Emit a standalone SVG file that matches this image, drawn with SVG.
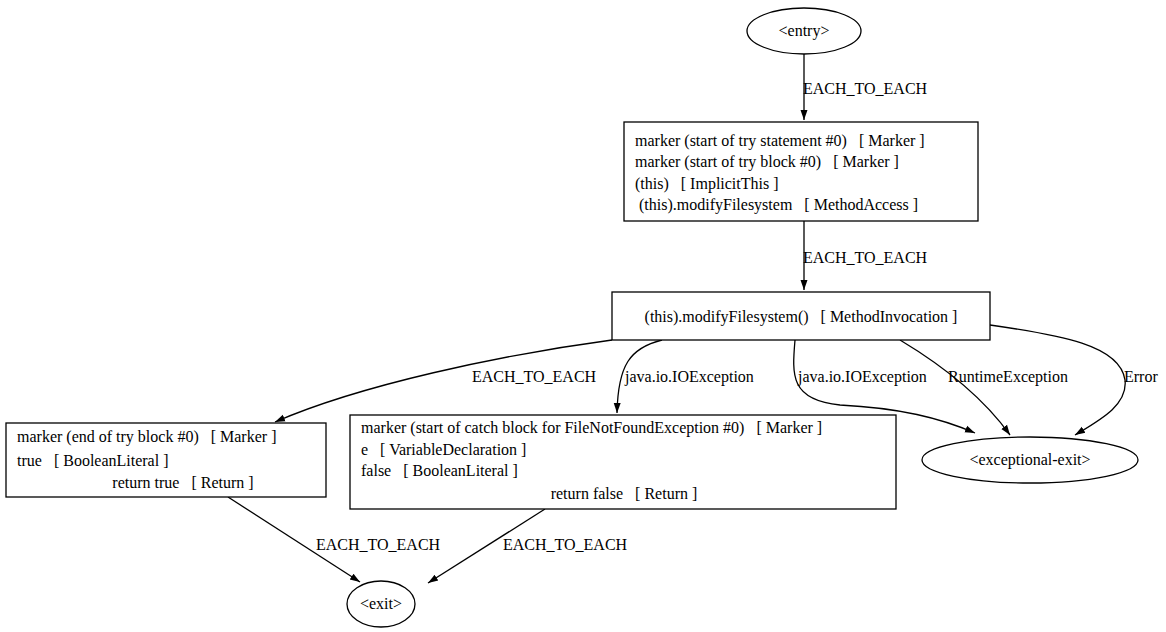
<svg xmlns="http://www.w3.org/2000/svg" width="1166" height="632" viewBox="0 0 1166 632">
<style>
text{font-family:"Liberation Serif","Times New Roman",serif;font-size:16px;fill:#000}
.n{fill:#fff;stroke:#000;stroke-width:1.3}
.e{fill:none;stroke:#000;stroke-width:1.3}
</style>
<defs><marker id="a" viewBox="0 0 10 10" refX="10" refY="5" markerWidth="10" markerHeight="10" markerUnits="userSpaceOnUse" orient="auto"><path d="M0,1.5L10,5L0,8.5z" fill="#000"/></marker></defs>
<rect width="1166" height="632" fill="#fff"/>
<g id="connectors">
<path class="e" marker-end="url(#a)" d="M804,54V120"/>
<text x="803" y="94">EACH_TO_EACH</text>
<path class="e" marker-end="url(#a)" d="M804,221V290"/>
<text x="803" y="263">EACH_TO_EACH</text>
<path class="e" marker-end="url(#a)" d="M612,340C500,355 360,385 275,422"/>
<text x="472" y="382">EACH_TO_EACH</text>
<path class="e" marker-end="url(#a)" d="M662,340C630,348 618,365 617,413"/>
<text x="625" y="382">java.io.IOException</text>
<path class="e" marker-end="url(#a)" d="M795,340C792,375 790,400 840,405C900,408 940,418 975,433"/>
<text x="798" y="382">java.io.IOException</text>
<path class="e" marker-end="url(#a)" d="M900,340C950,370 985,400 1010,435"/>
<text x="948" y="382">RuntimeException</text>
<path class="e" marker-end="url(#a)" d="M990,325C1060,335 1120,345 1125,380C1128,405 1100,420 1075,435"/>
<text x="1124" y="382">Error</text>
<path class="e" marker-end="url(#a)" d="M228,497L360,582"/>
<text x="316" y="550">EACH_TO_EACH</text>
<path class="e" marker-end="url(#a)" d="M545,509L428,583"/>
<text x="503" y="550">EACH_TO_EACH</text>
</g>
<g id="entry"><ellipse class="n" cx="804" cy="31" rx="57" ry="23"/><text x="804" y="36" text-anchor="middle">&lt;entry&gt;</text></g>
<g id="n1"><rect class="n" x="624" y="122" width="354" height="99"/>
<text x="635" y="146" xml:space="preserve">marker (start of try statement #0)   [ Marker ]</text>
<text x="635" y="167" xml:space="preserve">marker (start of try block #0)   [ Marker ]</text>
<text x="635" y="189" xml:space="preserve">(this)   [ ImplicitThis ]</text>
<text x="639" y="210" xml:space="preserve">(this).modifyFilesystem   [ MethodAccess ]</text></g>
<g id="n2"><rect class="n" x="612" y="292" width="378" height="48"/>
<text x="801" y="322" text-anchor="middle" xml:space="preserve">(this).modifyFilesystem()   [ MethodInvocation ]</text></g>
<g id="n3"><rect class="n" x="6" y="423" width="320" height="74"/>
<text x="17" y="442" xml:space="preserve">marker (end of try block #0)   [ Marker ]</text>
<text x="17" y="466" xml:space="preserve">true   [ BooleanLiteral ]</text>
<text x="183" y="488" text-anchor="middle" xml:space="preserve">return true   [ Return ]</text></g>
<g id="n4"><rect class="n" x="350" y="415" width="546" height="94"/>
<text x="361" y="433" xml:space="preserve">marker (start of catch block for FileNotFoundException #0)   [ Marker ]</text>
<text x="361" y="455" xml:space="preserve">e   [ VariableDeclaration ]</text>
<text x="361" y="476" xml:space="preserve">false   [ BooleanLiteral ]</text>
<text x="624" y="499" text-anchor="middle" xml:space="preserve">return false   [ Return ]</text></g>
<g id="exc"><ellipse class="n" cx="1030" cy="460" rx="108" ry="23"/><text x="1030" y="465" text-anchor="middle">&lt;exceptional-exit&gt;</text></g>
<g id="exit"><ellipse class="n" cx="381" cy="604" rx="34" ry="23"/><text x="381" y="609" text-anchor="middle">&lt;exit&gt;</text></g>
</svg>
